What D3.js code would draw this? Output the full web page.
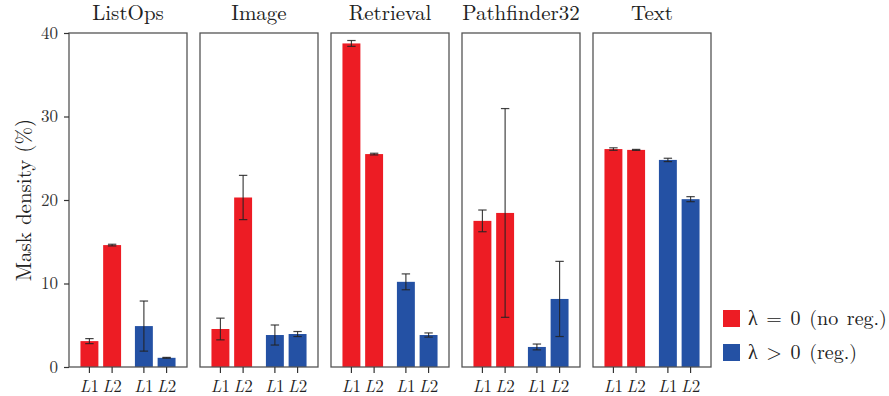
<!DOCTYPE html>
<html><head><meta charset="utf-8">
<script src="https://cdn.jsdelivr.net/npm/d3@7"></script>
<style>
body{margin:0;background:#fff;}
svg{display:block;}
</style></head>
<body>
<svg id="chart" width="889" height="396"></svg>
<script>
const tasks = ["ListOps","Image","Retrieval","Pathfinder32","Text"];
const normLabels = ["L1","L2","L1","L2"];
const yTicks = [0,10,20,30,40];
const seriesNames = ["λ = 0 (no reg.)","λ > 0 (reg.)"];
const seriesColors = ["#ed1c24","#2451a4"];

// per-task values (mask density %) and error half-widths
const noRegL1 = [3.1, 4.55, 38.75, 17.5, 26.1];
const noRegL1Err = [0.3, 1.3, 0.35, 1.3, 0.15];
const noRegL2 = [14.6, 20.3, 25.5, 18.45, 26.0];
const noRegL2Err = [0.1, 2.65, 0.1, 12.5, 0.06];
const regL1 = [4.9, 3.83, 10.2, 2.4, 24.8];
const regL1Err = [3.0, 1.2, 0.95, 0.35, 0.2];
const regL2 = [1.1, 3.95, 3.83, 8.15, 20.1];
const regL2Err = [0.05, 0.3, 0.25, 4.5, 0.3];

const FONT = "Latin Modern Roman";
const svg = d3.select("#chart");
const plotTop = 33, plotBottom = 367;
const panel = d3.scaleBand().domain(tasks).range([69, 711]).paddingInner(13/131).paddingOuter(0);
const y = d3.scaleLinear().domain([0, 40]).range([plotBottom, plotTop]);
const slots = [0, 1, 2.4, 3.4];
const xIn = d3.scaleLinear().domain([-0.9, 4.3]).range([0, panel.bandwidth()]);
const barW = xIn(0.79) - xIn(0);

const series = [
  {vals: noRegL1, errs: noRegL1Err, color: 0},
  {vals: noRegL2, errs: noRegL2Err, color: 0},
  {vals: regL1, errs: regL1Err, color: 1},
  {vals: regL2, errs: regL2Err, color: 1}
];

tasks.forEach((t, ti) => {
  const g = svg.append("g").attr("transform", `translate(${panel(t)},0)`);
  series.forEach((s, si) => {
    const cx = xIn(slots[si]);
    g.append("rect")
      .attr("x", cx - barW/2).attr("width", barW)
      .attr("y", y(s.vals[ti])).attr("height", y(0) - y(s.vals[ti]))
      .attr("fill", seriesColors[s.color]);
  });
  series.forEach((s, si) => {
    const cx = xIn(slots[si]);
    const hi = y(s.vals[ti] + s.errs[ti]), lo = y(s.vals[ti] - s.errs[ti]);
    const eg = g.append("g").attr("stroke", "#222").attr("stroke-width", 1.2).attr("stroke-opacity", 0.85);
    eg.append("line").attr("x1", cx).attr("x2", cx).attr("y1", hi).attr("y2", lo);
    eg.append("line").attr("x1", cx-4.2).attr("x2", cx+4.2).attr("y1", hi).attr("y2", hi);
    eg.append("line").attr("x1", cx-4.2).attr("x2", cx+4.2).attr("y1", lo).attr("y2", lo);
  });
  g.append("rect").attr("x", 0).attr("y", plotTop).attr("width", panel.bandwidth()).attr("height", plotBottom - plotTop)
    .attr("fill", "none").attr("stroke", "#555").attr("stroke-width", 1.3);
  slots.forEach((p, si) => {
    const cx = xIn(p);
    g.append("line").attr("x1", cx).attr("x2", cx).attr("y1", plotBottom).attr("y2", plotBottom + 6)
      .attr("stroke", "#333").attr("stroke-width", 1.2);
    const tx = g.append("text").attr("x", cx).attr("y", 392).attr("text-anchor", "middle")
      .attr("font-family", FONT).attr("font-size", 17).attr("fill", "#222");
    tx.append("tspan").attr("font-style", "italic").text(normLabels[si][0]);
    tx.append("tspan").text(normLabels[si].slice(1));
  });
  g.append("text").attr("x", panel.bandwidth()/2).attr("y", 20).attr("text-anchor", "middle")
    .attr("font-family", FONT).attr("font-size", 21).attr("fill", "#222").text(t);
});

const yAxis = svg.append("g").attr("transform", `translate(${panel(tasks[0])},0)`)
  .call(d3.axisLeft(y).tickValues(yTicks).tickSize(5).tickSizeOuter(0).tickPadding(6));
yAxis.attr("font-family", FONT);
yAxis.select(".domain").remove();
yAxis.selectAll(".tick line").attr("stroke", "#333").attr("stroke-width", 1.2);
yAxis.selectAll(".tick text").attr("font-family", FONT).attr("font-size", 17).attr("fill", "#333");

svg.append("text").attr("transform", `translate(31,200) rotate(-90)`)
  .attr("text-anchor", "middle").attr("font-family", FONT).attr("font-size", 21).attr("fill", "#222").text("Mask density (%)");

const lg = svg.append("g");
seriesNames.forEach((n, i) => {
  const ly = 310 + i * 34;
  lg.append("rect").attr("x", 723).attr("y", ly).attr("width", 17).attr("height", 17).attr("fill", seriesColors[i]);
  lg.append("text").attr("x", 748).attr("y", ly + 15).attr("font-family", FONT).attr("font-size", 20).attr("fill", "#222")
    .attr("word-spacing", 2).text(n);
});
</script>
</body></html>
